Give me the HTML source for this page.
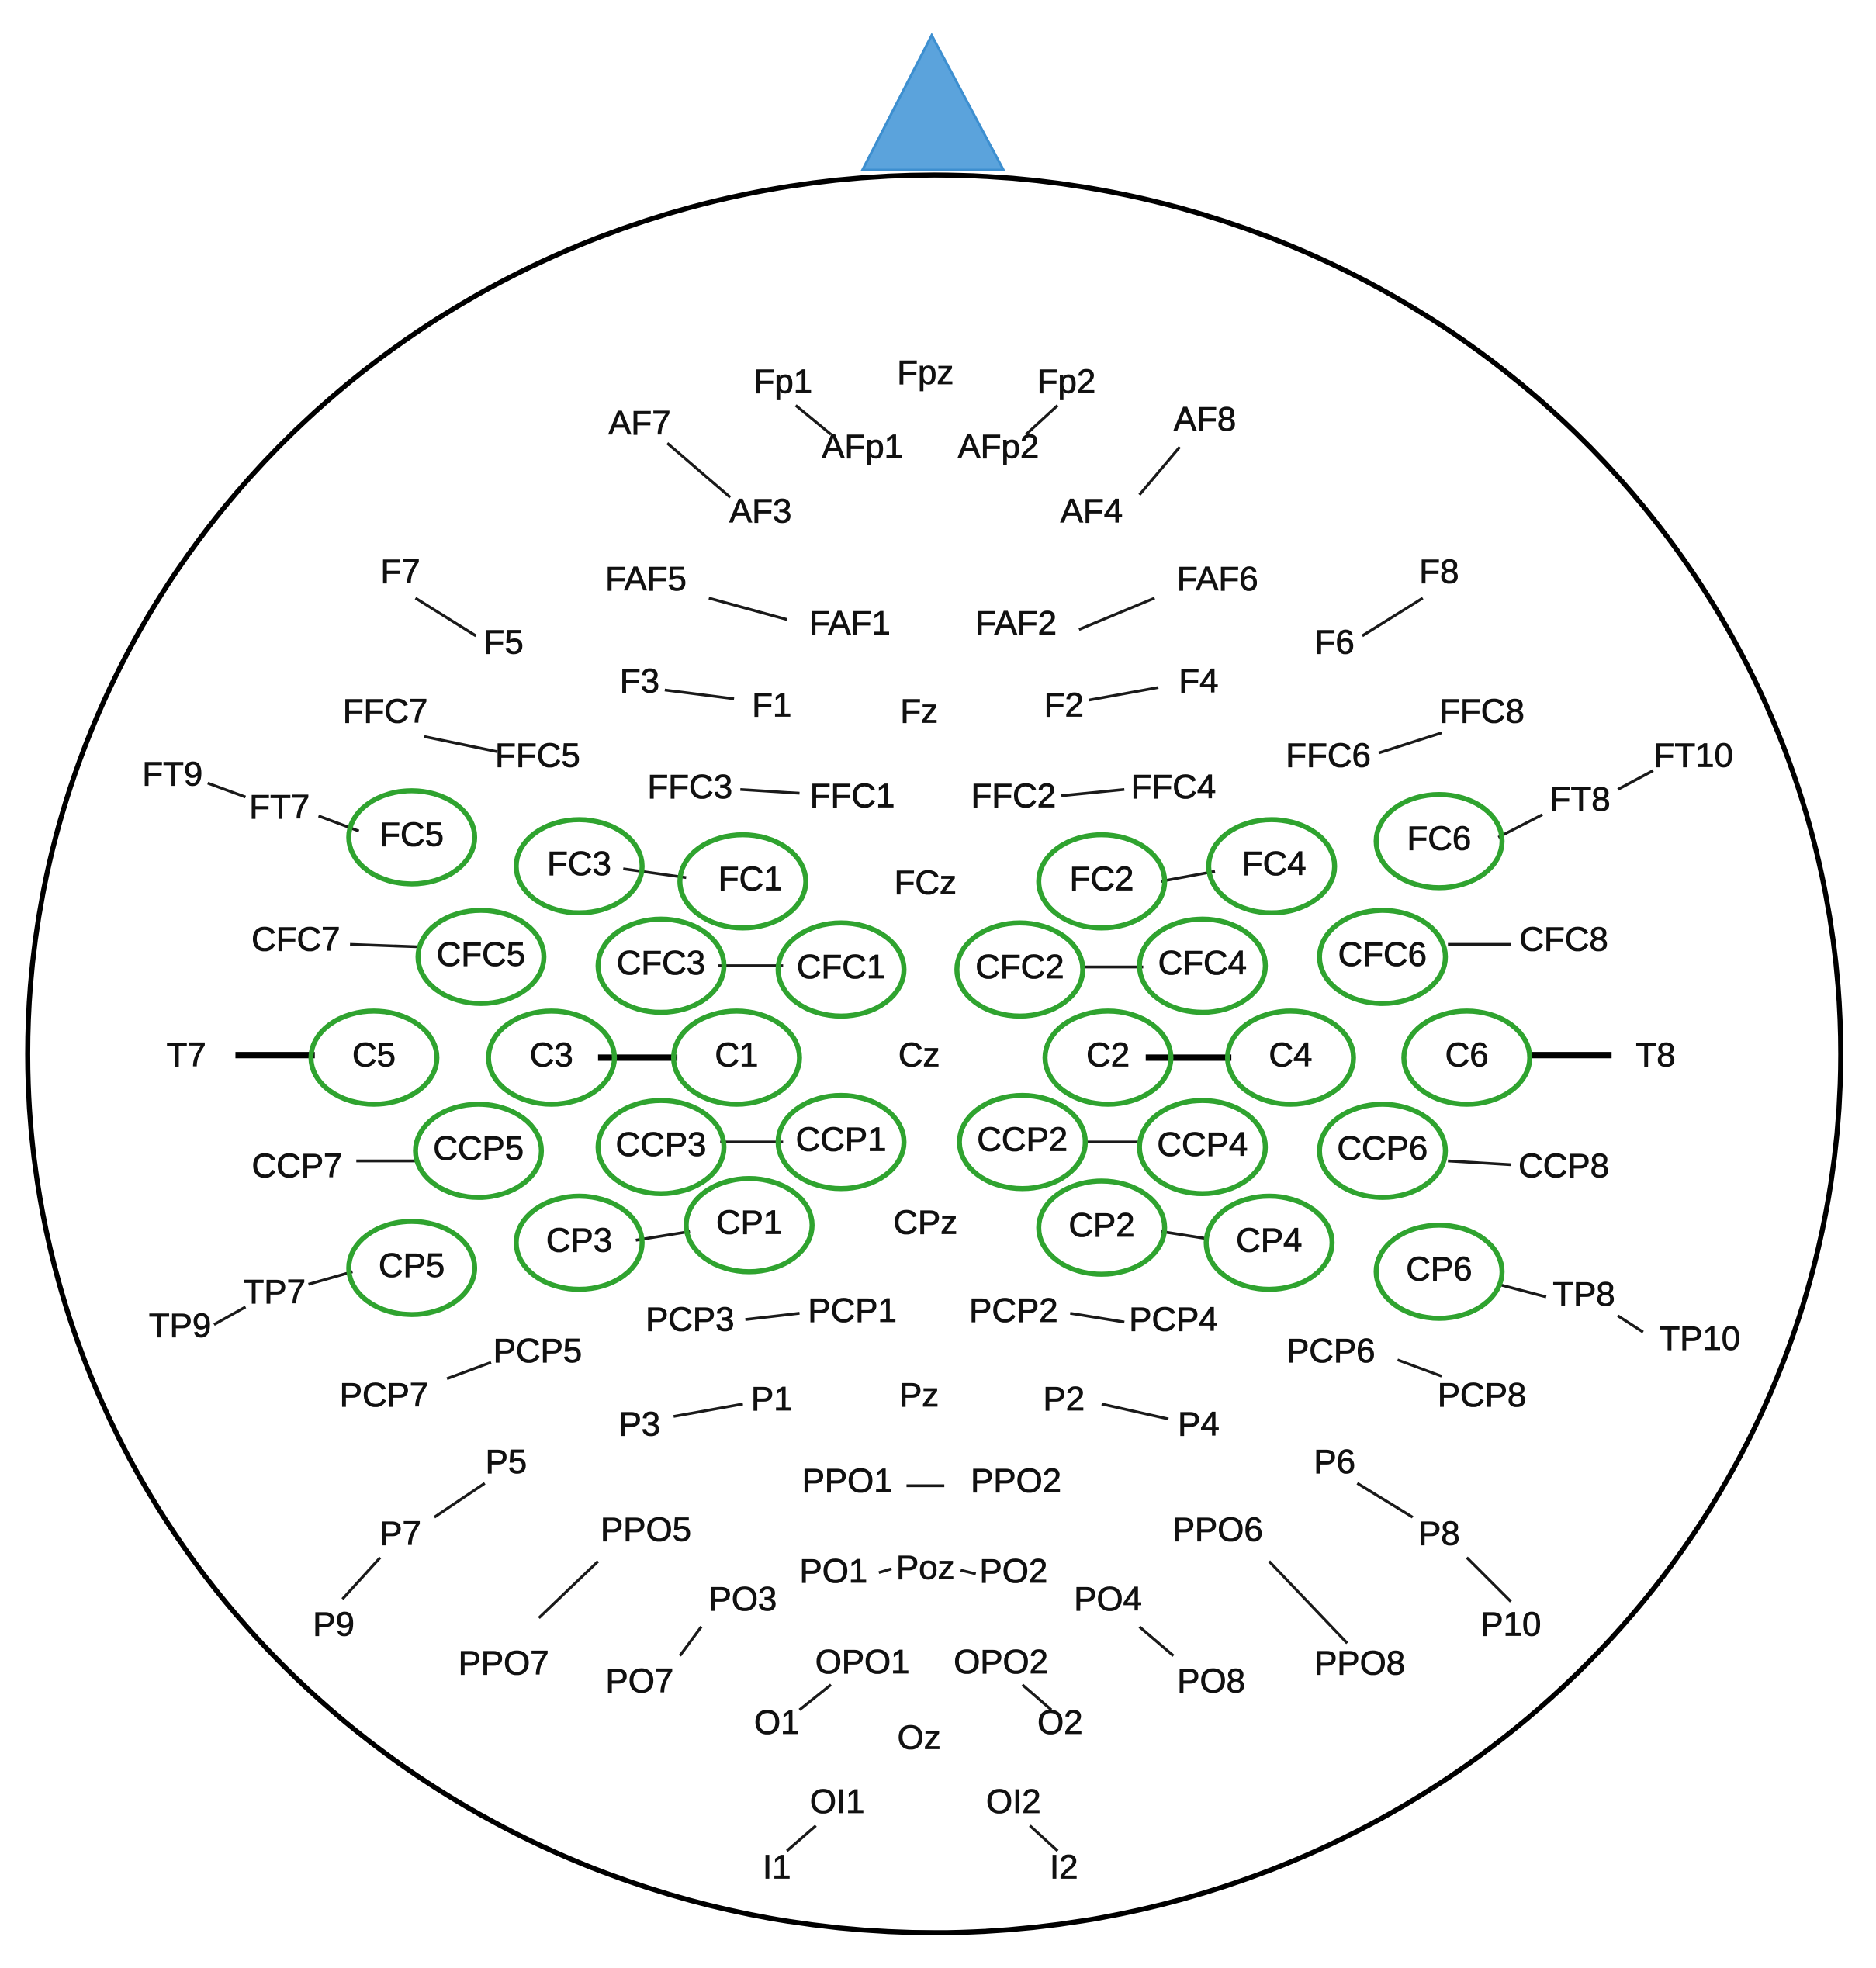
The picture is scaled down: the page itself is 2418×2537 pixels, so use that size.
<!DOCTYPE html>
<html><head><meta charset="utf-8"><style>html,body{margin:0;padding:0;background:#fff}svg{display:block}</style></head>
<body>
<svg width="2418" height="2537" viewBox="0 0 1490 1563" preserveAspectRatio="none" xmlns="http://www.w3.org/2000/svg">
<rect width="1490" height="1563" fill="#fff"/>
<polygon points="740,28 685,135 797,135" fill="#5ba3dc" stroke="#3d8fd0" stroke-width="2"/>
<ellipse cx="742" cy="837" rx="720" ry="698" fill="none" stroke="#000" stroke-width="4"/>
<g stroke="#1a1a1a" stroke-width="2.2" fill="none">
<line x1="632" y1="322" x2="660" y2="345"/><line x1="840" y1="322" x2="815" y2="345"/>
<line x1="530" y1="352" x2="580" y2="395"/><line x1="937" y1="355" x2="905" y2="393"/>
<line x1="330" y1="475" x2="378" y2="505"/><line x1="1130" y1="475" x2="1082" y2="505"/>
<line x1="563" y1="475" x2="625" y2="492"/><line x1="917" y1="475" x2="857" y2="500"/>
<line x1="528" y1="548" x2="583" y2="555"/><line x1="920" y1="546" x2="865" y2="556"/>
<line x1="337" y1="585" x2="395" y2="597"/><line x1="1145" y1="582" x2="1095" y2="598"/>
<line x1="588" y1="627" x2="635" y2="630"/><line x1="843" y1="632" x2="893" y2="627"/>
<line x1="165" y1="622" x2="195" y2="633"/><line x1="253" y1="648" x2="285" y2="660"/>
<line x1="1313" y1="612" x2="1285" y2="627"/><line x1="1225" y1="647" x2="1190" y2="665"/>
<line x1="495" y1="690" x2="545" y2="697"/><line x1="922" y1="700" x2="965" y2="692"/>
<line x1="278" y1="750" x2="333" y2="752"/><line x1="570" y1="767" x2="622" y2="767"/>
<line x1="858" y1="768" x2="908" y2="768"/><line x1="1150" y1="750" x2="1200" y2="750"/>
<line x1="283" y1="922" x2="332" y2="922"/><line x1="572" y1="907" x2="622" y2="907"/>
<line x1="860" y1="907" x2="907" y2="907"/><line x1="1150" y1="922" x2="1200" y2="925"/>
<line x1="505" y1="985" x2="548" y2="978"/><line x1="922" y1="978" x2="960" y2="984"/>
<line x1="170" y1="1052" x2="195" y2="1038"/><line x1="245" y1="1020" x2="280" y2="1010"/>
<line x1="1190" y1="1020" x2="1228" y2="1030"/><line x1="1285" y1="1045" x2="1305" y2="1058"/>
<line x1="592" y1="1048" x2="635" y2="1043"/><line x1="850" y1="1043" x2="893" y2="1050"/>
<line x1="355" y1="1095" x2="390" y2="1082"/><line x1="1110" y1="1080" x2="1145" y2="1093"/>
<line x1="535" y1="1125" x2="590" y2="1115"/><line x1="875" y1="1115" x2="928" y2="1127"/>
<line x1="385" y1="1178" x2="345" y2="1205"/><line x1="302" y1="1237" x2="272" y2="1270"/>
<line x1="1078" y1="1178" x2="1122" y2="1205"/><line x1="1165" y1="1237" x2="1200" y2="1272"/>
<line x1="720" y1="1180" x2="750" y2="1180"/>
<line x1="475" y1="1240" x2="428" y2="1285"/><line x1="1008" y1="1240" x2="1070" y2="1305"/>
<line x1="698" y1="1249" x2="708" y2="1246"/><line x1="763" y1="1247" x2="775" y2="1250"/>
<line x1="557" y1="1292" x2="540" y2="1315"/><line x1="905" y1="1292" x2="932" y2="1315"/>
<line x1="660" y1="1338" x2="635" y2="1358"/><line x1="812" y1="1338" x2="835" y2="1358"/>
<line x1="648" y1="1450" x2="625" y2="1470"/><line x1="818" y1="1450" x2="840" y2="1470"/>
</g>
<g stroke="#000" stroke-width="5">
<line x1="187" y1="838" x2="250" y2="838"/><line x1="475" y1="840" x2="538" y2="840"/>
<line x1="910" y1="840" x2="978" y2="840"/><line x1="1215" y1="838" x2="1280" y2="838"/>
</g>
<g fill="none" stroke="#2fa32f" stroke-width="4">
<ellipse cx="327" cy="665" rx="50" ry="37"/><ellipse cx="460" cy="688" rx="50" ry="37"/>
<ellipse cx="590" cy="700" rx="50" ry="37"/><ellipse cx="875" cy="700" rx="50" ry="37"/>
<ellipse cx="1010" cy="688" rx="50" ry="37"/><ellipse cx="1143" cy="668" rx="50" ry="37"/>
<ellipse cx="382" cy="760" rx="50" ry="37"/><ellipse cx="525" cy="767" rx="50" ry="37"/>
<ellipse cx="668" cy="770" rx="50" ry="37"/><ellipse cx="810" cy="770" rx="50" ry="37"/>
<ellipse cx="955" cy="767" rx="50" ry="37"/><ellipse cx="1098" cy="760" rx="50" ry="37"/>
<ellipse cx="297" cy="840" rx="50" ry="37"/><ellipse cx="438" cy="840" rx="50" ry="37"/>
<ellipse cx="585" cy="840" rx="50" ry="37"/><ellipse cx="880" cy="840" rx="50" ry="37"/>
<ellipse cx="1025" cy="840" rx="50" ry="37"/><ellipse cx="1165" cy="840" rx="50" ry="37"/>
<ellipse cx="380" cy="914" rx="50" ry="37"/><ellipse cx="525" cy="911" rx="50" ry="37"/>
<ellipse cx="668" cy="907" rx="50" ry="37"/><ellipse cx="812" cy="907" rx="50" ry="37"/>
<ellipse cx="955" cy="911" rx="50" ry="37"/><ellipse cx="1098" cy="914" rx="50" ry="37"/>
<ellipse cx="327" cy="1007" rx="50" ry="37"/><ellipse cx="460" cy="987" rx="50" ry="37"/>
<ellipse cx="595" cy="973" rx="50" ry="37"/><ellipse cx="875" cy="975" rx="50" ry="37"/>
<ellipse cx="1008" cy="987" rx="50" ry="37"/><ellipse cx="1143" cy="1010" rx="50" ry="37"/>
</g>
<g transform="translate(0,-2)" font-family="Liberation Sans, sans-serif" font-size="27" fill="#111" stroke="#111" stroke-width="0.5" text-anchor="middle" dominant-baseline="central">
<text x="622" y="305">Fp1</text><text x="735" y="298">Fpz</text><text x="847" y="305">Fp2</text>
<text x="685" y="357">AFp1</text><text x="793" y="357">AFp2</text>
<text x="508" y="338">AF7</text><text x="957" y="335">AF8</text>
<text x="604" y="408">AF3</text><text x="867" y="408">AF4</text>
<text x="318" y="456">F7</text><text x="400" y="512">F5</text><text x="513" y="462">FAF5</text>
<text x="675" y="497">FAF1</text><text x="807" y="497">FAF2</text><text x="967" y="462">FAF6</text>
<text x="1143" y="456">F8</text><text x="1060" y="512">F6</text>
<text x="508" y="543">F3</text><text x="613" y="562">F1</text><text x="730" y="567">Fz</text>
<text x="845" y="562">F2</text><text x="952" y="543">F4</text>
<text x="306" y="567">FFC7</text><text x="427" y="602">FFC5</text><text x="1055" y="602">FFC6</text><text x="1177" y="567">FFC8</text>
<text x="548" y="627">FFC3</text><text x="677" y="634">FFC1</text><text x="805" y="634">FFC2</text><text x="932" y="627">FFC4</text>
<text x="137" y="617">FT9</text><text x="222" y="643">FT7</text><text x="1255" y="637">FT8</text><text x="1345" y="602">FT10</text>
<text x="327" y="665">FC5</text><text x="460" y="688">FC3</text><text x="596" y="700">FC1</text>
<text x="875" y="700">FC2</text><text x="1012" y="688">FC4</text><text x="1143" y="668">FC6</text><text x="735" y="703">FCz</text>
<text x="235" y="748">CFC7</text><text x="382" y="760">CFC5</text><text x="525" y="767">CFC3</text>
<text x="668" y="770">CFC1</text><text x="810" y="770">CFC2</text><text x="955" y="767">CFC4</text>
<text x="1098" y="760">CFC6</text><text x="1242" y="748">CFC8</text>
<text x="148" y="840">T7</text><text x="297" y="840">C5</text><text x="438" y="840">C3</text>
<text x="585" y="840">C1</text><text x="730" y="840">Cz</text><text x="880" y="840">C2</text>
<text x="1025" y="840">C4</text><text x="1165" y="840">C6</text><text x="1315" y="840">T8</text>
<text x="236" y="928">CCP7</text><text x="380" y="914">CCP5</text><text x="525" y="911">CCP3</text>
<text x="668" y="907">CCP1</text><text x="812" y="907">CCP2</text><text x="955" y="911">CCP4</text>
<text x="1098" y="914">CCP6</text><text x="1242" y="928">CCP8</text>
<text x="327" y="1007">CP5</text><text x="460" y="987">CP3</text><text x="595" y="973">CP1</text>
<text x="735" y="973">CPz</text><text x="875" y="975">CP2</text><text x="1008" y="987">CP4</text><text x="1143" y="1010">CP6</text>
<text x="143" y="1055">TP9</text><text x="218" y="1028">TP7</text><text x="1258" y="1030">TP8</text><text x="1350" y="1065">TP10</text>
<text x="548" y="1050">PCP3</text><text x="677" y="1043">PCP1</text><text x="805" y="1043">PCP2</text><text x="932" y="1050">PCP4</text>
<text x="305" y="1110">PCP7</text><text x="427" y="1075">PCP5</text><text x="1057" y="1075">PCP6</text><text x="1177" y="1110">PCP8</text>
<text x="508" y="1133">P3</text><text x="613" y="1113">P1</text><text x="730" y="1110">Pz</text>
<text x="845" y="1113">P2</text><text x="952" y="1133">P4</text>
<text x="402" y="1163">P5</text><text x="318" y="1220">P7</text><text x="265" y="1292">P9</text>
<text x="1060" y="1163">P6</text><text x="1143" y="1220">P8</text><text x="1200" y="1292">P10</text>
<text x="673" y="1178">PPO1</text><text x="807" y="1178">PPO2</text>
<text x="513" y="1217">PPO5</text><text x="400" y="1323">PPO7</text><text x="967" y="1217">PPO6</text><text x="1080" y="1323">PPO8</text>
<text x="662" y="1250">PO1</text><text x="735" y="1247">Poz</text><text x="805" y="1250">PO2</text>
<text x="590" y="1272">PO3</text><text x="508" y="1337">PO7</text><text x="880" y="1272">PO4</text><text x="962" y="1337">PO8</text>
<text x="685" y="1322">OPO1</text><text x="795" y="1322">OPO2</text>
<text x="617" y="1370">O1</text><text x="730" y="1382">Oz</text><text x="842" y="1370">O2</text>
<text x="665" y="1433">OI1</text><text x="805" y="1433">OI2</text><text x="617" y="1485">I1</text><text x="845" y="1485">I2</text>
</g>
</svg>
</body></html>
